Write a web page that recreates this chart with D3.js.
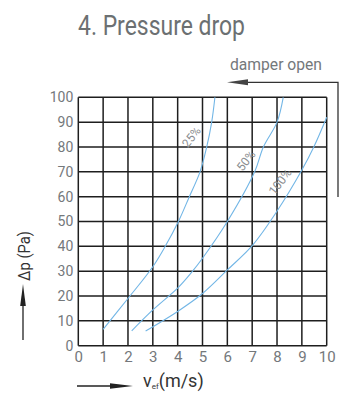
<!DOCTYPE html>
<html>
<head>
<meta charset="utf-8">
<script src="https://cdn.jsdelivr.net/npm/d3@7/dist/d3.min.js"></script>
<style>
  html, body { margin: 0; padding: 0; background: #fff; }
  svg { display: block; }
  text { font-family: Roboto, "Liberation Sans", sans-serif; }
</style>
</head>
<body>
<svg id="chart" width="350" height="393"></svg>
<script>
// ---- data ----
const title = "4. Pressure drop";
const xTicks = [0,1,2,3,4,5,6,7,8,9,10];
const yTicks = [0,10,20,30,40,50,60,70,80,90,100];
const curveNames = ["25%", "50%", "100%"];
const v25  = [1.0, 1.95, 3.0, 3.5, 4.03, 4.47, 4.9, 5.17, 5.37, 5.5];
const dp25 = [6.6, 18.4, 31.8, 40, 50, 60, 70, 80, 90, 100];
const v50  = [2.15, 3.0, 4.03, 4.6, 5.0, 6.0, 7.1, 7.45, 8.0, 8.25];
const dp50 = [6.0, 14.4, 23.5, 30, 35.2, 50, 70, 80, 90, 100];
const v100  = [2.71, 4.03, 5.0, 6.0, 7.02, 7.99, 9.0, 9.48, 10.0];
const dp100 = [5.9, 14.0, 21.0, 30.5, 40.5, 54, 70.7, 80, 92];
// label anchor positions (in data units)
const labelV  = [4.55, 6.75, 8.12];
const labelDp = [84.0, 74.5, 66.0];

const series = [
  {name: curveNames[0], v: v25, dp: dp25},
  {name: curveNames[1], v: v50, dp: dp50},
  {name: curveNames[2], v: v100, dp: dp100}
];

const svg = d3.select("#chart");
const x = d3.scaleLinear().domain([0,10]).range([78.3, 326.7]);
const y = d3.scaleLinear().domain([0,100]).range([345.7, 97.3]);

const gray = "#74787b";

// title
svg.append("text").attr("x", 78).attr("y", 35)
  .attr("font-size", 27).attr("fill", "#6c7072")
  .attr("textLength", 167).attr("lengthAdjust", "spacingAndGlyphs")
  .text(title);

// grid
const grid = svg.append("g");
grid.selectAll("line.v").data(xTicks).join("line")
  .attr("x1", d => x(d)).attr("x2", d => x(d))
  .attr("y1", y(0)).attr("y2", y(100))
  .attr("stroke", "#1e1e1e").attr("stroke-width", 1.5);
grid.selectAll("line.h").data(yTicks).join("line")
  .attr("y1", d => y(d)).attr("y2", d => y(d))
  .attr("x1", x(0)).attr("x2", x(10))
  .attr("stroke", "#1e1e1e").attr("stroke-width", 1.5);

// axes labels via d3 axes (no domain/ticks)
const xAxis = svg.append("g").attr("transform", `translate(0,${y(0)})`)
  .call(d3.axisBottom(x).tickValues(xTicks).tickSize(0).tickPadding(16).tickFormat(d3.format("d")));
xAxis.select(".domain").remove();
xAxis.selectAll("text").attr("font-size", 15).attr("fill", gray)
  .attr("font-family", "Roboto, sans-serif").attr("dy", "0");

const yAxis = svg.append("g").attr("transform", `translate(${x(0)},0)`)
  .call(d3.axisLeft(y).tickValues(yTicks).tickSize(0).tickPadding(5).tickFormat(d3.format("d")));
yAxis.select(".domain").remove();
yAxis.selectAll("text").attr("font-size", 14).attr("fill", gray)
  .attr("font-family", "Roboto, sans-serif");

// curves
const line = d3.line().x(d => x(d[0])).y(d => y(d[1])).curve(d3.curveCatmullRom.alpha(0.5));
svg.append("g").selectAll("path").data(series).join("path")
  .attr("d", s => line(s.v.map((vv, i) => [vv, s.dp[i]])))
  .attr("fill", "none").attr("stroke", "#72b6e6").attr("stroke-width", 1.1);

// curve labels
svg.append("g").selectAll("text").data(curveNames).join("text")
  .attr("transform", (d, i) => `translate(${x(labelV[i])},${y(labelDp[i])}) rotate(-52)`)
  .attr("text-anchor", "middle").attr("dy", "0.35em")
  .attr("font-size", 12).attr("fill", "#8a8d90")
  .text(d => d);

// damper open arrow
svg.append("text").attr("x", 276).attr("y", 70).attr("text-anchor", "middle")
  .attr("font-size", 16).attr("fill", gray)
  .attr("textLength", 92).attr("lengthAdjust", "spacingAndGlyphs")
  .text("damper open");
svg.append("path").attr("d", "M338,197 V82.3 H245")
  .attr("fill", "none").attr("stroke", "#333").attr("stroke-width", 1.3);
svg.append("path").attr("d", "M227,82.3 L248,79.3 L248,85.3 Z").attr("fill", "#444");

// x axis title
svg.append("path").attr("d", "M77,386 H115").attr("stroke", "#222").attr("stroke-width", 1.3);
svg.append("path").attr("d", "M133,386 L110,383.2 L110,388.8 Z").attr("fill", "#222");
const xt = svg.append("text").attr("x", 143).attr("y", 387).attr("font-size", 18).attr("fill", "#333");
xt.append("tspan").text("v");
xt.append("tspan").attr("font-size", 8).attr("dy", 2).text("ef");
xt.append("tspan").attr("dy", -2).text("(m/s)");

// y axis title
svg.append("text").attr("transform", "translate(30,256) rotate(-90)")
  .attr("text-anchor", "middle").attr("font-size", 17).attr("fill", "#333")
  .attr("textLength", 50).attr("lengthAdjust", "spacingAndGlyphs")
  .text("Δp (Pa)");
svg.append("path").attr("d", "M23,340 V300").attr("stroke", "#222").attr("stroke-width", 1.3);
svg.append("path").attr("d", "M23,284 L20.2,306 L25.8,306 Z").attr("fill", "#222");
</script>
</body>
</html>
